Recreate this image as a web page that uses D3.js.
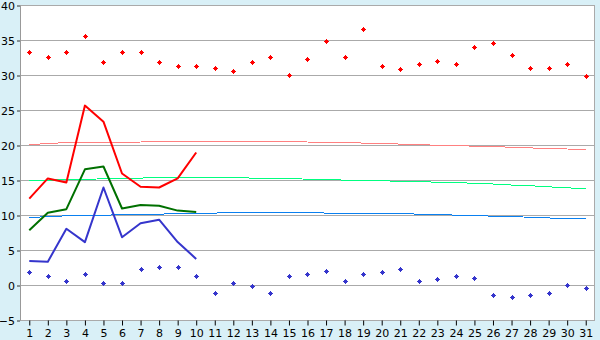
<!DOCTYPE html>
<html>
<head>
<meta charset="utf-8">
<script src="https://cdn.jsdelivr.net/npm/d3@7"></script>
<style>
  body { margin: 0; background: #d9f0f7; }
  svg { display: block; }
  .tick text { font-family: "DejaVu Sans", Verdana, sans-serif; font-size: 11px; fill: #000; }
</style>
</head>
<body>
<svg id="chart" width="600" height="340"></svg>
<script>
const days = d3.range(1, 32)
const yTicks = [-5, 0, 5, 10, 15, 20, 25, 30, 35, 40]

// daily maximum / minimum (markers)
const maxDots = [33.3, 32.7, 33.4, 35.7, 31.9, 33.3, 33.3, 31.9, 31.3, 31.4,
  31.0, 30.6, 32.0, 32.6, 30.0, 32.3, 34.9, 32.7, 36.7, 31.4,
  30.9, 31.7, 32.1, 31.7, 34.0, 34.7, 33.0, 31.0, 31.0, 31.6, 29.9]
const minDots = [1.9, 1.3, 0.7, 1.7, 0.3, 0.3, 2.3, 2.7, 2.7, 1.3,
  -1.0, 0.4, -0.1, -1.0, 1.4, 1.7, 2.1, 0.7, 1.6, 1.9,
  2.3, 0.7, 0.9, 1.3, 1.1, -1.4, -1.6, -1.4, -1.1, 0.0, -0.3]

// current month, first 10 days
const redLine = [12.4, 15.3, 14.7, 25.7, 23.4, 16.0, 14.1, 14.0, 15.3, 19.0]
const greenLine = [7.9, 10.4, 10.9, 16.6, 17.0, 11.0, 11.5, 11.4, 10.7, 10.5]
const blueLine = [3.5, 3.4, 8.1, 6.2, 14.0, 6.9, 8.9, 9.4, 6.2, 3.8]

// normals
const normMax = [20.1, 20.3, 20.4, 20.4, 20.45, 20.45, 20.5, 20.55, 20.55, 20.55,
  20.55, 20.55, 20.55, 20.55, 20.55, 20.5, 20.45, 20.4, 20.35, 20.3,
  20.2, 20.1, 20.05, 20.0, 19.9, 19.85, 19.75, 19.65, 19.6, 19.5, 19.4]
const normMean = [15.0, 15.05, 15.1, 15.15, 15.25, 15.3, 15.35, 15.4, 15.45, 15.45,
  15.45, 15.4, 15.35, 15.3, 15.25, 15.2, 15.15, 15.05, 15.0, 14.95,
  14.9, 14.85, 14.75, 14.7, 14.6, 14.5, 14.35, 14.25, 14.1, 13.95, 13.85]
const normMin = [9.7, 9.85, 9.95, 10.0, 10.05, 10.1, 10.15, 10.2, 10.25, 10.3,
  10.35, 10.4, 10.45, 10.45, 10.45, 10.4, 10.35, 10.3, 10.3, 10.25,
  10.25, 10.2, 10.15, 10.05, 10.0, 9.9, 9.85, 9.75, 9.65, 9.55, 9.55]

const svg = d3.select("#chart")
const pLeft = 20, pRight = 595, pTop = 5.5, pBottom = 320.5

let x = d3.scaleBand().domain(days).range([pLeft, pRight])
let cx = d => x(d) + x.bandwidth() / 2
let y = d3.scaleLinear().domain([-5, 40]).range([pBottom, pTop])

svg.append("rect")
  .attr("x", pLeft).attr("y", pTop)
  .attr("width", pRight - pLeft).attr("height", pBottom - pTop)
  .attr("fill", "#fff")

// grid
svg.append("g")
  .selectAll("line")
  .data(yTicks)
  .join("line")
  .attr("x1", pLeft).attr("x2", pRight)
  .attr("y1", d => y(d)).attr("y2", d => y(d))
  .attr("stroke", "#aaa")
  .attr("shape-rendering", "crispEdges")

svg.append("line")
  .attr("x1", pRight - 0.5).attr("x2", pRight - 0.5)
  .attr("y1", pTop).attr("y2", pBottom)
  .attr("stroke", "#aaa")
svg.append("line")
  .attr("x1", pLeft + 0.5).attr("x2", pLeft + 0.5)
  .attr("y1", pTop).attr("y2", pBottom)
  .attr("stroke", "#999")

// axes
const yAxis = svg.append("g")
  .attr("transform", `translate(${pLeft},0)`)
  .call(d3.axisLeft(y).tickValues(yTicks).tickSize(3).tickPadding(2))
yAxis.select(".domain").remove()
yAxis.selectAll(".tick line").attr("stroke", "#333")

const xAxis = svg.append("g")
  .attr("transform", `translate(0,${pBottom})`)
  .call(d3.axisBottom(d3.scalePoint().domain(days).range([cx(1), cx(31)])).tickSize(5).tickPadding(4))
xAxis.select(".domain").remove()
xAxis.selectAll(".tick line").attr("stroke", "#000")

const line = d3.line().x((d, i) => cx(i + 1)).y(d => y(d))

// normals: thin, aliased
const thin = [[normMax, "#ff8080"], [normMean, "#00ff80"], [normMin, "#0a80f0"]]
thin.forEach(([vals, col]) => {
  svg.append("path")
    .attr("d", line(vals))
    .attr("fill", "none")
    .attr("stroke", col)
    .attr("stroke-width", 1)
    .attr("shape-rendering", "crispEdges")
})

const thick = [[redLine, "#ff0000"], [greenLine, "#007000"], [blueLine, "#3535cc"]]
thick.forEach(([vals, col]) => {
  svg.append("path")
    .attr("d", line(vals))
    .attr("fill", "none")
    .attr("stroke", col)
    .attr("stroke-width", 2)
    .attr("stroke-linejoin", "round")
})

// markers: 5px pixel diamond
const marker = "M-0.5,-2.5h1v1h1v1h1v1h-1v1h-1v1h-1v-1h-1v-1h-1v-1h1v-1h1z"
const dots = [[maxDots, "#ff0000"], [minDots, "#3535cc"]]
dots.forEach(([vals, col]) => {
  svg.append("g")
    .selectAll("path")
    .data(vals)
    .join("path")
    .attr("d", marker)
    .attr("transform", (d, i) => `translate(${Math.round(cx(i + 1)) + 0.5},${Math.round(y(d)) + 0.5})`)
    .attr("fill", col)
    .attr("shape-rendering", "crispEdges")
})
</script>
</body>
</html>
